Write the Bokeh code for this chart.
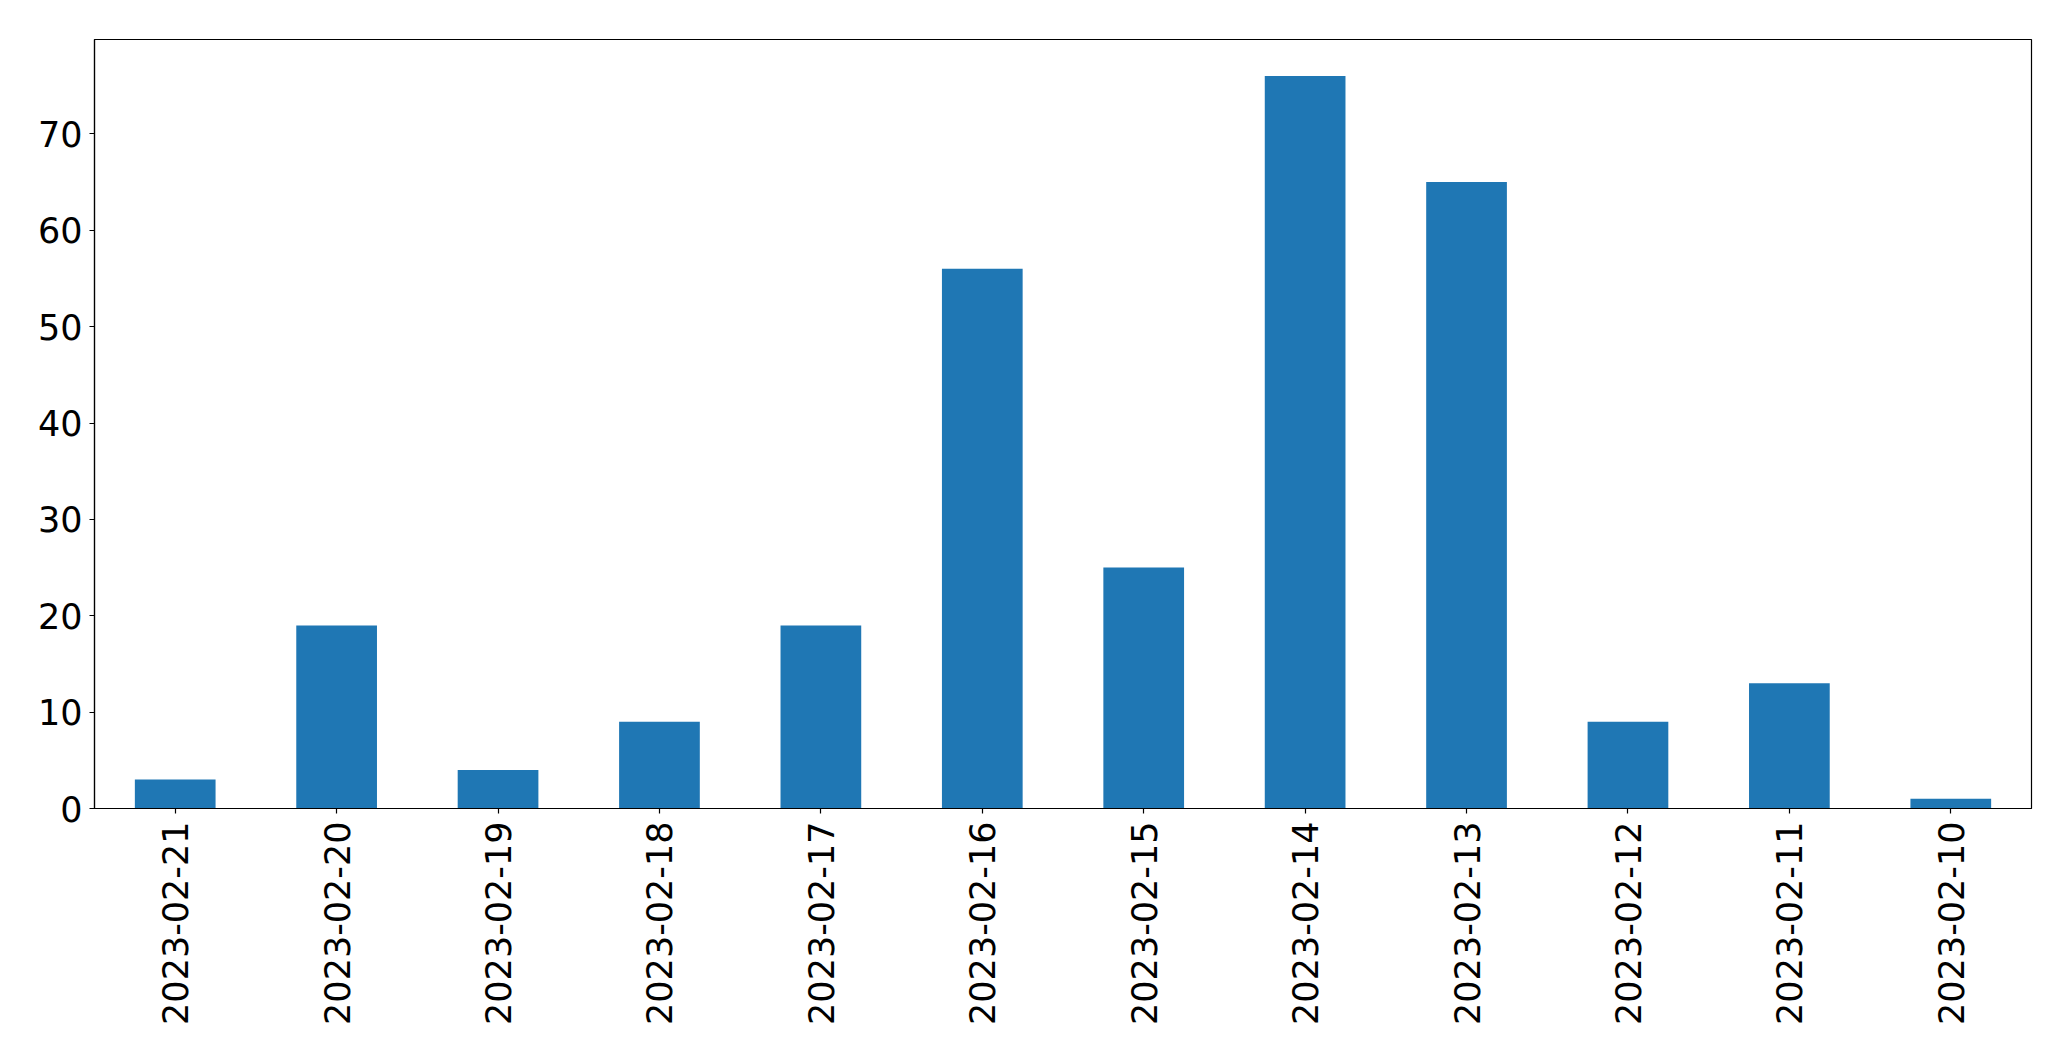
from bokeh.plotting import figure
from bokeh.models import Range1d, FixedTicker, ColumnDataSource
from bokeh.embed import file_html
from bokeh.resources import INLINE
import math

dates = ["2023-02-21", "2023-02-20", "2023-02-19", "2023-02-18", "2023-02-17", "2023-02-16",
         "2023-02-15", "2023-02-14", "2023-02-13", "2023-02-12", "2023-02-11", "2023-02-10"]
counts = [3, 19, 4, 9, 19, 56, 25, 76, 65, 9, 13, 1]
y_ticks = [0, 10, 20, 30, 40, 50, 60, 70]

source = ColumnDataSource(data=dict(dates=dates, counts=counts))

p = figure(x_range=dates, y_range=Range1d(0, max(counts) * 1.05),
           width=2059, height=1044, output_backend="svg", toolbar_location=None,
           min_border_left=94, min_border_top=39, min_border_right=28, min_border_bottom=236)

p.vbar(x="dates", top="counts", width=0.5, source=source, color="#1f77b4", line_color=None)

p.xgrid.visible = False
p.ygrid.visible = False
p.outline_line_color = "black"
p.outline_line_width = 1.2
p.background_fill_color = "white"
p.border_fill_color = "white"

p.yaxis.ticker = FixedTicker(ticks=y_ticks)
for ax in (p.xaxis[0], p.yaxis[0]):
    ax.axis_line_color = "black"
    ax.axis_line_width = 1.2
    ax.major_tick_line_color = "black"
    ax.major_tick_line_width = 1.2
    ax.major_tick_out = 5
    ax.major_tick_in = 0
    ax.minor_tick_line_color = None
    ax.major_label_text_font = "DejaVu Sans"
    ax.major_label_text_font_size = "35px"
    ax.major_label_text_color = "black"
    ax.major_label_standoff = 7

p.xaxis.major_label_orientation = math.pi / 2
p.xaxis.major_label_standoff = 8

open("out.html", "w").write(file_html(p, INLINE))
